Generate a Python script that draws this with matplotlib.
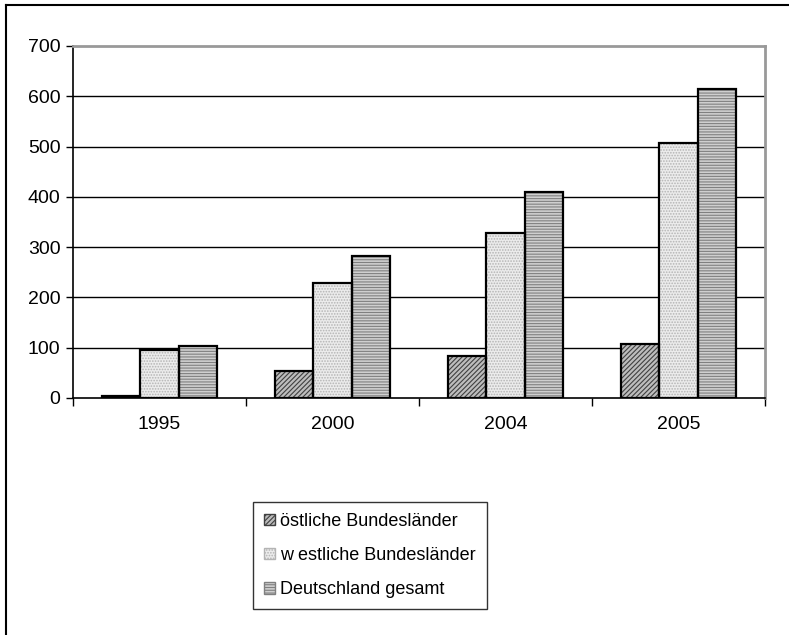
import numpy as np
import matplotlib
matplotlib.use('Agg')
import matplotlib.pyplot as plt
from matplotlib.patches import Patch
from matplotlib.lines import Line2D

plt.rcParams['font.family'] = ['Liberation Sans', 'DejaVu Sans']
plt.rcParams['hatch.linewidth'] = 0.8

# data
years = ['1995', '2000', '2004', '2005']
east = [4, 53, 84, 107]
west = [96, 229, 328, 507]
total = [103, 283, 409, 615]
labels = ['östliche Bundesländer', 'w estliche Bundesländer', 'Deutschland gesamt']
y_ticks = [0, 100, 200, 300, 400, 500, 600, 700]

# fill colour, hatch, hatch colour per series
styles = [
    ('#bdbdbd', '///////', '#404040'),
    ('#ececec', '......', '#b4b4b4'),
    ('#cfcfcf', '------', '#808080'),
]

fig = plt.figure(figsize=(7.89, 6.35), dpi=100)
ax = fig.add_axes([73 / 789, 1 - 398 / 635, (765 - 73) / 789, (398 - 46) / 635])

x = np.arange(len(years))
w = 0.223
for i, (vals, (fc, hatch, hc)) in enumerate(zip([east, west, total], styles)):
    pos = x + (i - 1) * w
    ax.bar(pos, vals, w, color=fc, hatch=hatch, edgecolor=hc, linewidth=0, zorder=3)
    ax.bar(pos, vals, w, fill=False, edgecolor='black', linewidth=1.6, zorder=4)

ax.set_xlim(-0.5, len(years) - 0.5)
ax.set_ylim(0, 700)
ax.set_yticks(y_ticks)
ax.set_xticks(x)
ax.set_xticklabels(years)
ax.set_xticks(np.arange(-0.5, len(years)), minor=True)
ax.tick_params(axis='x', which='major', length=0, pad=13, labelsize=14)
ax.tick_params(axis='x', which='minor', length=6, width=1, direction='out')
ax.tick_params(axis='y', length=5, width=1, pad=4, labelsize=14)

for v in y_ticks[1:-1]:
    ax.axhline(v, color='black', linewidth=1, zorder=1)
ax.spines['left'].set_color('black')
ax.spines['bottom'].set_color('black')
ax.spines['top'].set_color('#999999')
ax.spines['right'].set_color('#999999')
for s in ax.spines.values():
    s.set_linewidth(1.2)
ax.spines['top'].set_linewidth(2)
ax.spines['right'].set_linewidth(2)

handles = [Patch(facecolor=fc, hatch=hatch, edgecolor=hc) for fc, hatch, hc in styles]
leg = fig.legend(handles, labels, loc='upper left', bbox_to_anchor=(253 / 789, 1 - 502 / 635),
                 borderaxespad=0, fontsize=13, frameon=True, fancybox=False,
                 handlelength=0.6, handleheight=0.6, handletextpad=0.3,
                 labelspacing=0.95, borderpad=0.6)
leg.get_frame().set_edgecolor('black')
leg.get_frame().set_linewidth(1)

# outer chart frame (top and left edges visible)
fig.add_artist(Line2D([6 / 789, 1], [1 - 5 / 635, 1 - 5 / 635], color='black', linewidth=1.5))
fig.add_artist(Line2D([6 / 789, 6 / 789], [0, 1 - 5 / 635], color='black', linewidth=1.5))

fig.savefig('out.png', dpi=100)
plt.close(fig)
